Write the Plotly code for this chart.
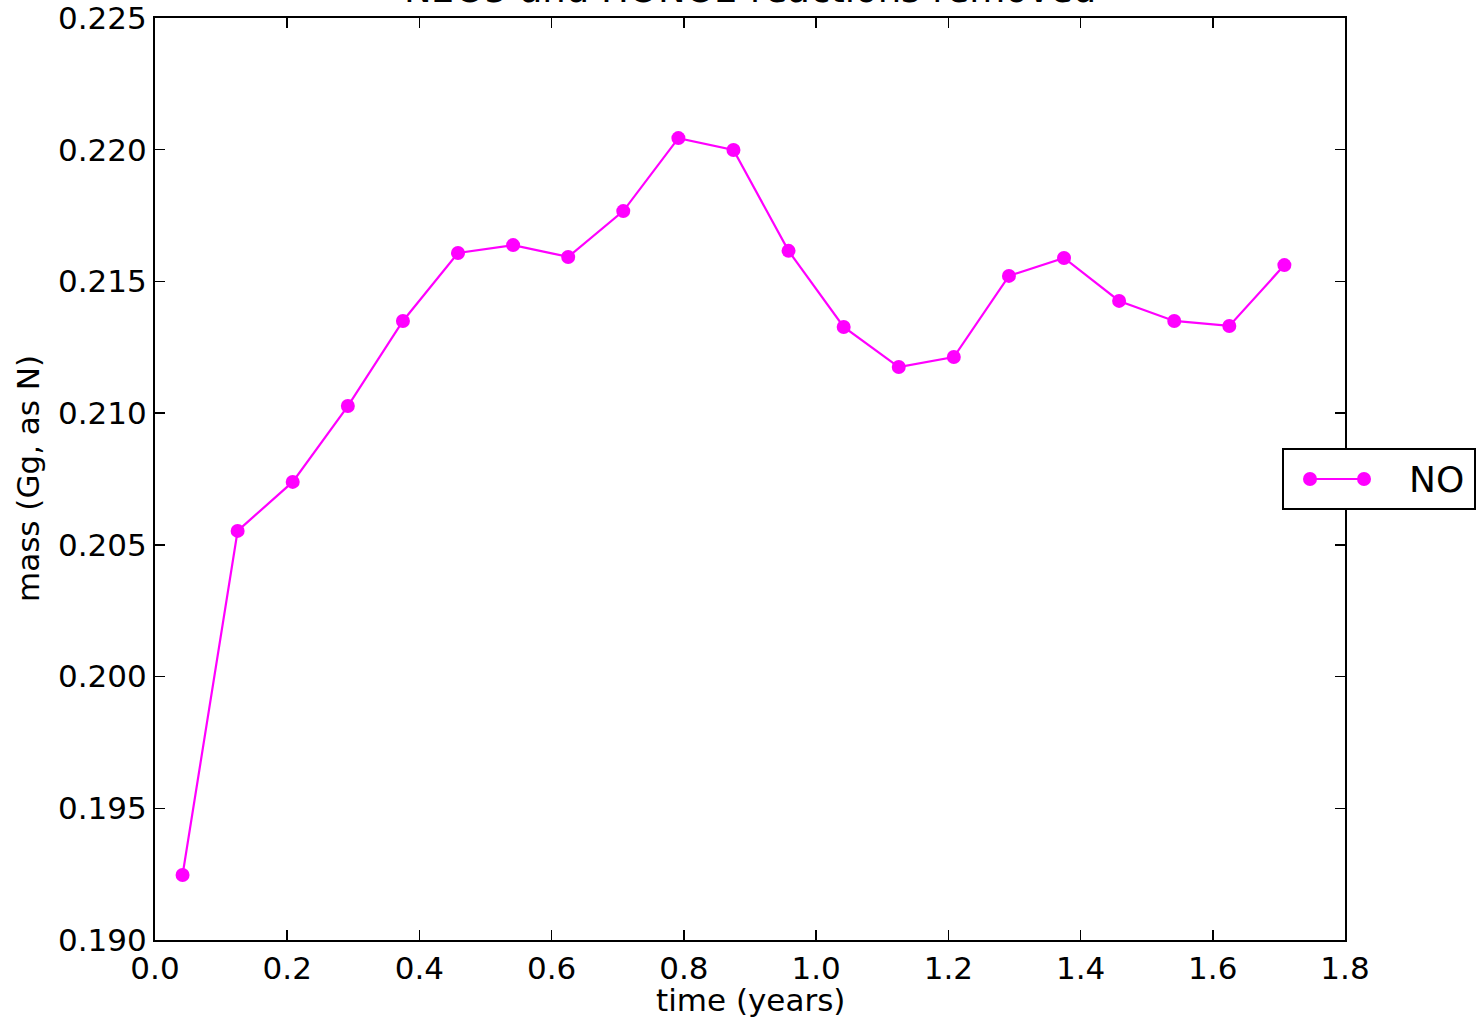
import plotly.graph_objects as go

time_years = [0.0417, 0.1250, 0.2083, 0.2917, 0.3750, 0.4583, 0.5417, 0.6250,
              0.7083, 0.7917, 0.8750, 0.9583, 1.0417, 1.1250, 1.2083, 1.2917,
              1.3750, 1.4583, 1.5417, 1.6250, 1.7083]
no_mass = [0.19247, 0.20553, 0.20739, 0.21027, 0.21350, 0.21608, 0.21638, 0.21593,
           0.21767, 0.22044, 0.21999, 0.21616, 0.21327, 0.21175, 0.21213, 0.21521,
           0.21589, 0.21426, 0.21350, 0.21331, 0.21562]

x_ticks = [0.0, 0.2, 0.4, 0.6, 0.8, 1.0, 1.2, 1.4, 1.6, 1.8]
x_ticklabels = ["0.0", "0.2", "0.4", "0.6", "0.8", "1.0", "1.2", "1.4", "1.6", "1.8"]
y_ticks = [0.190, 0.195, 0.200, 0.205, 0.210, 0.215, 0.220, 0.225]
y_ticklabels = ["0.190", "0.195", "0.200", "0.205", "0.210", "0.215", "0.220", "0.225"]

title_text = "N2O5 and HONO2 reactions removed"
x_title = "time (years)"
y_title = "mass (Gg, as N)"
series_name = "NO"

FONT = "DejaVu Sans"
MAGENTA = "#FF00FF"

# plot area geometry in pixels
L, R, T, B = 155, 1345, 18, 940
W, H = R - L, B - T


def px_x(px):
    return (px - L) / W


def px_y(py):
    return (B - py) / H


fig = go.Figure()
fig.add_trace(go.Scatter(
    x=time_years, y=no_mass, mode="lines+markers", name=series_name,
    line=dict(color=MAGENTA, width=2.2),
    marker=dict(color=MAGENTA, size=14, line=dict(width=0)),
    showlegend=False, hoverinfo="skip",
))

axis_common = dict(
    showline=True, linecolor="black", linewidth=2, mirror="ticks",
    ticks="inside", ticklen=10, tickwidth=1.5, tickcolor="black",
    showgrid=False, zeroline=False, automargin=False,
    ticklabeloverflow="allow",
    tickfont=dict(family=FONT, size=31, color="black"),
)

fig.update_layout(
    width=1476, height=1026,
    margin=dict(l=L, r=1476 - R, t=T, b=1026 - B, autoexpand=False),
    paper_bgcolor="white", plot_bgcolor="white",
    font=dict(family=FONT, color="black"),
    xaxis=dict(range=[x_ticks[0], x_ticks[-1]], tickmode="array",
               tickvals=x_ticks, ticktext=x_ticklabels, **axis_common),
    yaxis=dict(range=[y_ticks[0], y_ticks[-1]], tickmode="array",
               tickvals=y_ticks, ticktext=y_ticklabels, **axis_common),
    showlegend=False,
)

annotations = [
    dict(text=title_text, xref="paper", yref="paper", x=0.5, y=1 + 5 / H,
         xanchor="center", yanchor="bottom", showarrow=False,
         font=dict(family=FONT, size=37, color="black")),
    dict(text=x_title, xref="paper", yref="paper", x=0.5, y=px_y(1000),
         xanchor="center", yanchor="middle", showarrow=False,
         font=dict(family=FONT, size=31, color="black")),
    dict(text=y_title, xref="paper", yref="paper", x=px_x(28), y=0.5,
         xanchor="center", yanchor="middle", showarrow=False, textangle=-90,
         font=dict(family=FONT, size=31, color="black")),
    # legend label
    dict(text=series_name, xref="paper", yref="paper", x=px_x(1407), y=px_y(479),
         xanchor="left", yanchor="middle", showarrow=False,
         font=dict(family=FONT, size=36, color="black")),
]

shapes = [
    # legend box
    dict(type="rect", xref="paper", yref="paper",
         x0=px_x(1283), x1=px_x(1475), y0=px_y(509), y1=px_y(449),
         line=dict(color="black", width=2), fillcolor="white", layer="above"),
    # legend line sample
    dict(type="line", xref="paper", yref="paper",
         x0=px_x(1310), x1=px_x(1364), y0=px_y(479), y1=px_y(479),
         line=dict(color=MAGENTA, width=2.2), layer="above"),
]
for cx in (1310, 1364):
    shapes.append(dict(type="circle", xref="paper", yref="paper",
                       xsizemode="pixel", ysizemode="pixel",
                       xanchor=px_x(cx), yanchor=px_y(479),
                       x0=-7, x1=7, y0=-7, y1=7,
                       line=dict(width=0), fillcolor=MAGENTA, layer="above"))

fig.update_layout(annotations=annotations, shapes=shapes)

fig.write_html("out.html",
               config={"displayModeBar": False, "staticPlot": True},
               post_script="document.body.style.margin='0';document.body.style.overflow='hidden';")
